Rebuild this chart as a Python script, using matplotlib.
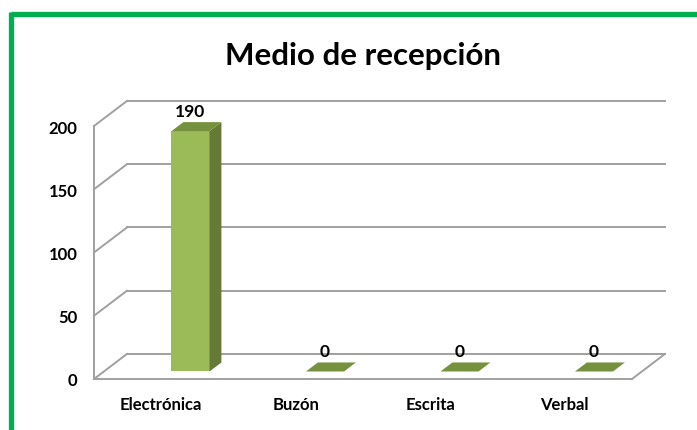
import matplotlib.pyplot as plt
from matplotlib.patches import Polygon
from matplotlib.lines import Line2D

# Data
categories = ["Electrónica", "Buzón", "Escrita", "Verbal"]
values = [190, 0, 0, 0]
yticks = [0, 50, 100, 150, 200]

plt.rcParams['font.family'] = ['Lato', 'DejaVu Sans']

grid_c = '#a0a0a0'
front_c = '#9bbb59'
side_c = '#647a35'
top_c = '#76913d'

fig = plt.figure(figsize=(6.97, 4.31), dpi=100)
ax = fig.add_axes([94 / 697, 51 / 431, 538 / 697, 253 / 431])
ax.set_xlim(-0.5, 3.5)
ax.set_ylim(0, 200)

# oblique depth offset (data units) for the 3D look
ddx, ddy = 0.245, 19.8


def proj(x, v, d):
    return (x + d * ddx, v + d * ddy)


# back wall gridlines + left wall diagonals
for t in yticks:
    x0, y0 = proj(-0.5, t, 1)
    x1, y1 = proj(3.5, t, 1)
    ax.add_line(Line2D([x0, x1], [y0, y1], color=grid_c, lw=1.4, clip_on=False, zorder=1))
    ax.add_line(Line2D([-0.5, x0], [t, y0], color=grid_c, lw=1.4, clip_on=False, zorder=1))

# right floor edge
xr0, yr0 = proj(3.5, 0, 1)
ax.add_line(Line2D([3.5, xr0], [0, yr0], color=grid_c, lw=1.4, clip_on=False, zorder=1))

# bars
w = 0.283
shift = 0.144
d0, d1 = 0.3, 0.66
for i, v in enumerate(values):
    xl = i + shift - w / 2
    xr = i + shift + w / 2
    if v > 0:
        ax.add_patch(Polygon([proj(xl, 0, d0), proj(xr, 0, d0), proj(xr, v, d0), proj(xl, v, d0)],
                             closed=True, fc=front_c, ec='none', zorder=3, clip_on=False))
        ax.add_patch(Polygon([proj(xr, 0, d0), proj(xr, 0, d1), proj(xr, v, d1), proj(xr, v, d0)],
                             closed=True, fc=side_c, ec='none', zorder=3, clip_on=False))
    ax.add_patch(Polygon([proj(xl, v, d0), proj(xr, v, d0), proj(xr, v, d1), proj(xl, v, d1)],
                         closed=True, fc=top_c, ec='none', zorder=3, clip_on=False))
    lx, ly = proj(i + shift, v, d0)
    ax.annotate(str(v), (lx, ly), xytext=(0, 14.5), textcoords='offset points',
                ha='center', va='center', fontsize=12.5, fontweight='bold', zorder=4)

for s in ['top', 'right']:
    ax.spines[s].set_visible(False)
for s in ['left', 'bottom']:
    ax.spines[s].set_color(grid_c)
    ax.spines[s].set_linewidth(1.4)
ax.spines['left'].set_zorder(1)

ax.set_yticks(yticks)
ax.set_yticklabels([str(t) for t in yticks], fontsize=12, fontweight='bold')
ax.set_xticks(range(len(categories)))
ax.set_xticklabels(categories, fontsize=12, fontweight='bold')
ax.tick_params(axis='y', length=0, pad=12)
ax.tick_params(axis='x', length=0, pad=12)
ax.patch.set_visible(False)

fig.text(363 / 697, 1 - 56 / 431, "Medio de recepción", ha='center', va='center',
         fontsize=22.5, fontweight='bold')

# green frame (top and left)
fig.add_artist(Line2D([11 / 697, 1], [1 - 14.5 / 431, 1 - 14.5 / 431], color='#00b050', lw=3.8,
                      transform=fig.transFigure, solid_capstyle='butt'))
fig.add_artist(Line2D([11 / 697, 11 / 697], [0, 1 - 12.5 / 431], color='#00b050', lw=3.8,
                      transform=fig.transFigure, solid_capstyle='butt'))

fig.savefig("out.png", dpi=100)
